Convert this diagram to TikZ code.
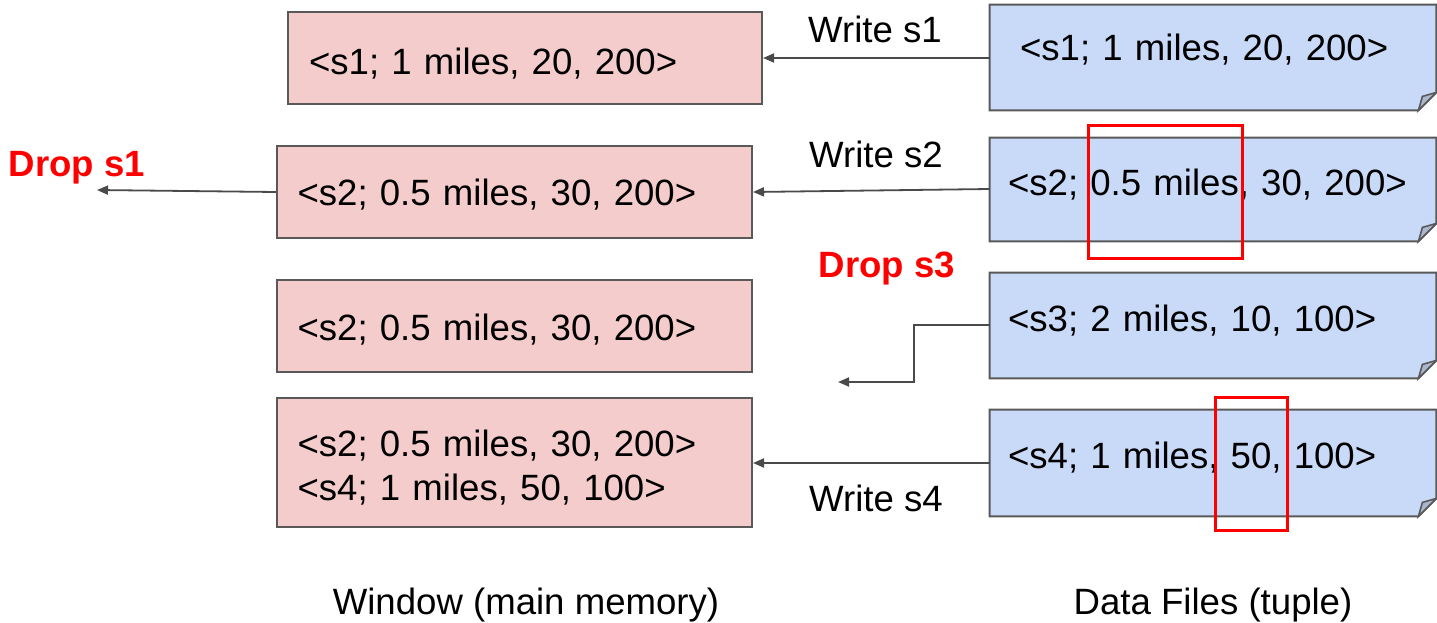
\documentclass[tikz,border=0pt]{standalone}
\usepackage{fontspec}
\setmainfont{Liberation Sans}
\usetikzlibrary{arrows.meta,backgrounds}
\definecolor{winfill}{HTML}{F4CCCC}
\definecolor{filefill}{HTML}{C9DAF8}
\definecolor{foldfill}{HTML}{A9B7CF}
\definecolor{edge}{HTML}{595959}
\definecolor{wire}{HTML}{4A4A4A}
\definecolor{alert}{HTML}{FF0000}
\tikzset{
  base/.style={font=\fontsize{18.3}{22}\selectfont},
  fixedline/.style={text height=13pt, text depth=3pt},
  winbox/.style={base, fixedline, draw=edge, line width=1pt, fill=winfill, minimum height=46pt,
    minimum width=237.5pt, text width=217pt, inner xsep=10.25pt, align=left},
  filebox/.style={base, fixedline, minimum width=223pt, text width=205pt, inner xsep=9pt, align=left},
  flow/.style={draw=wire, line width=0.9pt, -{Triangle[length=5.5pt,width=4.5pt]}},
  caption/.style={base},
  droplabel/.style={font=\bfseries\fontsize{18.3}{22}\selectfont, text=alert},
  hilite/.style={draw=alert, line width=1.5pt, minimum height=66.5pt}
}
% folded-corner outline for a data file node
\newcommand{\filesheet}[1]{%
  \begin{scope}[on background layer]
    \draw[draw=edge, line width=1pt, fill=filefill]
      (#1.north west) -- (#1.north east) -- ([yshift=9pt]#1.south east)
      -- ([xshift=-9pt]#1.south east) -- (#1.south west) -- cycle;
  \end{scope}
  \draw[draw=edge, line width=0.8pt, fill=foldfill]
    ([yshift=9pt]#1.south east) -- ([xshift=-7pt,yshift=7pt]#1.south east)
    -- ([xshift=-9pt]#1.south east) -- cycle;
}
\begin{document}
\begin{tikzpicture}[x=0.5pt, y=-0.5pt]
\useasboundingbox (0,0) rectangle (1437,622);

% window contents (main memory)
\node[winbox, minimum width=237pt, text width=216pt, inner xsep=10.5pt] (w1) at (525,58) {\raisebox{-3.4pt}{<s1; 1 miles, 20, 200>}};
\node[winbox] (w2) at (514.5,192) {\raisebox{-1.8pt}{<s2; 0.5 miles, 30, 200>}};
\node[winbox] (w3) at (514.5,326) {\raisebox{-2pt}{<s2; 0.5 miles, 30, 200>}};
\node[winbox, minimum height=64.5pt, text depth=25pt] (w4) at (514.5,462.5)
  {\raisebox{-3pt}{<s2; 0.5 miles, 30, 200>}\\\raisebox{-3pt}{<s4; 1 miles, 50, 100>}};

% data files
\node[filebox, minimum height=52.5pt, inner xsep=15pt, text width=193pt] (f1) at (1213,57.5) {\raisebox{3.6pt}{<s1; 1 miles, 20, 200>}};
\node[filebox, minimum height=51.5pt] (f2) at (1213,189.5) {\raisebox{2.2pt}{<s2; 0.5 miles, 30, 200>}};
\node[filebox, minimum height=52.5pt] (f3) at (1213,325.5) {\raisebox{2.2pt}{<s3; 2 miles, 10, 100>}};
\node[filebox, minimum height=53pt] (f4) at (1213,463) {\raisebox{2.4pt}{<s4; 1 miles, 50, 100>}};
\filesheet{f1}
\filesheet{f2}
\filesheet{f3}
\filesheet{f4}

% highlighted fields
\node[hilite, minimum width=77pt] (h1) at (1165,191.5) {};
\node[hilite, minimum width=36pt] (h2) at (1251,463.5) {};

% labels
\node[caption] (l1) at (875,29) {Write s1};
\node[caption] (l2) at (876,154) {Write s2};
\node[caption] (l4) at (876,498) {Write s4};
\node[droplabel] (d1) at (77,168) {Drop s1};
\node[droplabel] (d3) at (887,269) {Drop s3};
\node[caption] (t1) at (526,605) {Window (main memory)};
\node[caption] (t2) at (1213,605) {Data Files (tuple)};

% free ends of the drop arrows
\coordinate (out1) at (97,190);
\coordinate (bend3) at (914,325);
\coordinate (out3) at (838,382);

% connectors
\draw[flow] (f1.west |- 0,58) -- (w1.east |- 0,58);
\draw[flow] (f2.west |- 0,189) -- (w2.east);
\draw[flow] (w2.west) -- (out1);
\draw[flow] (f3.west |- bend3) -- (bend3) -- (bend3 |- out3) -- (out3);
\draw[flow] (f4.west |- 0,463) -- (w4.east |- 0,463);
\end{tikzpicture}
\end{document}
